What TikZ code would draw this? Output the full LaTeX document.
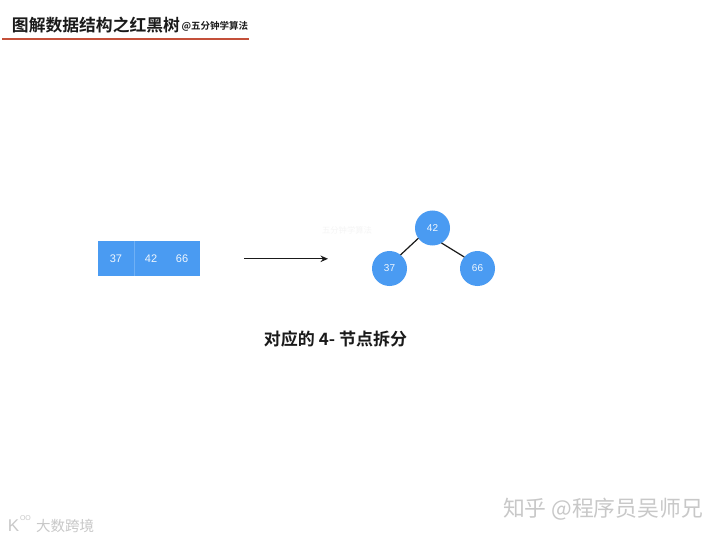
\documentclass[tikz,border=0pt]{standalone}
\usepackage{fontspec}
\setmainfont{Liberation Sans}
\newfontfamily\cjkfont{Noto Sans CJK SC}
\newfontfamily\cjkbold{Noto Sans CJK SC Bold}
\usetikzlibrary{arrows.meta}
\definecolor{nodeblue}{HTML}{4A9BF2}
\definecolor{celledge}{HTML}{6FB0F5}
\definecolor{dkink}{HTML}{1A1A1A}
\definecolor{rulered}{HTML}{C4503A}
\definecolor{wmgray}{HTML}{C8C8C8}

\begin{document}
\begin{tikzpicture}[
    x=1pt, y=1pt,
    >={Stealth[length=7.5pt, width=6.5pt]},
    every node/.style={inner sep=0pt, outer sep=0pt},
    cellbox/.style={fill=nodeblue, minimum height=35pt},
    celltext/.style={text=white!92!nodeblue, font=\fontsize{11}{13}\selectfont},
    treenode/.style={circle, fill=nodeblue, minimum size=35pt, text=white!92!nodeblue,
      font=\fontsize{10}{12}\selectfont},
    treeedge/.style={dkink, line width=1.2pt},
    watermark/.style={text=wmgray, anchor=west},
  ]

  % Background
  \fill[white] (0,0) rectangle (720,-540);
  \useasboundingbox (0,0) rectangle (720,-540);

  % Title
  \node[anchor=west, text=dkink, font=\cjkbold\fontsize{16.8}{20}\selectfont] (title) at (12,-25.5)
    {图解数据结构之红黑树};
  \node[anchor=west, text=dkink, font=\cjkbold\fontsize{9.5}{12}\selectfont] (subtitle) at (181.5,-26)
    {@五分钟学算法};
  \coordinate (ruleL) at (2,-39.3);
  \coordinate (ruleR) at (249,-39.3);
  \draw[rulered, line width=1.8pt] (ruleL) -- (ruleR);

  % 4-node as array
  \node[cellbox, minimum width=36pt] (cellA) at (116,-258.5) {};
  \node[cellbox, minimum width=66pt] (cellB) at (167,-258.5) {};
  \draw[celledge, line width=0.5pt] (cellA.north east) -- (cellA.south east);
  \node[celltext] (t37) at (116,-258.5) {37};
  \node[celltext] (t42) at (151,-258.5) {42};
  \node[celltext] (t66) at (182,-258.5) {66};

  % Arrow
  \coordinate (arrowS) at (244,-258.8);
  \coordinate (arrowE) at (328,-258.8);
  \draw[dkink, line width=1.2pt, ->] (arrowS) -- (arrowE);

  % Faint mark behind the tree
  \node[text=black!4, font=\cjkfont\fontsize{8.3}{10}\selectfont] (faint) at (347,-230) {五分钟学算法};

  % Split tree
  \node[treenode] (n42) at (432.5,-228) {42};
  \node[treenode] (n37) at (389.5,-268.5) {37};
  \node[treenode] (n66) at (477.5,-268.5) {66};
  \draw[treeedge] (n42.-144) -- (n37.51);
  \draw[treeedge] (n42.-59) -- (n66.139);

  % Caption
  \node[text=dkink, font=\cjkbold\fontsize{17}{20}\selectfont] (caption) at (335.5,-339)
    {对应的 4- 节点拆分};

  % Watermarks
  \node[watermark, font=\cjkfont\fontsize{21.8}{24}\selectfont] (zhihu) at (503,-509.5)
    {知乎 @程序员吴师兄};
  \node[watermark, font=\cjkfont\fontsize{14.5}{16}\selectfont] (brand) at (36,-525.5) {大数跨境};
  \node[watermark, font=\fontsize{17}{18}\selectfont] (logoK) at (8,-525.5) {K};
  \node[watermark, font=\fontsize{7}{8}\selectfont] (logoO) at (20,-518.5) {OO};

\end{tikzpicture}
\end{document}
